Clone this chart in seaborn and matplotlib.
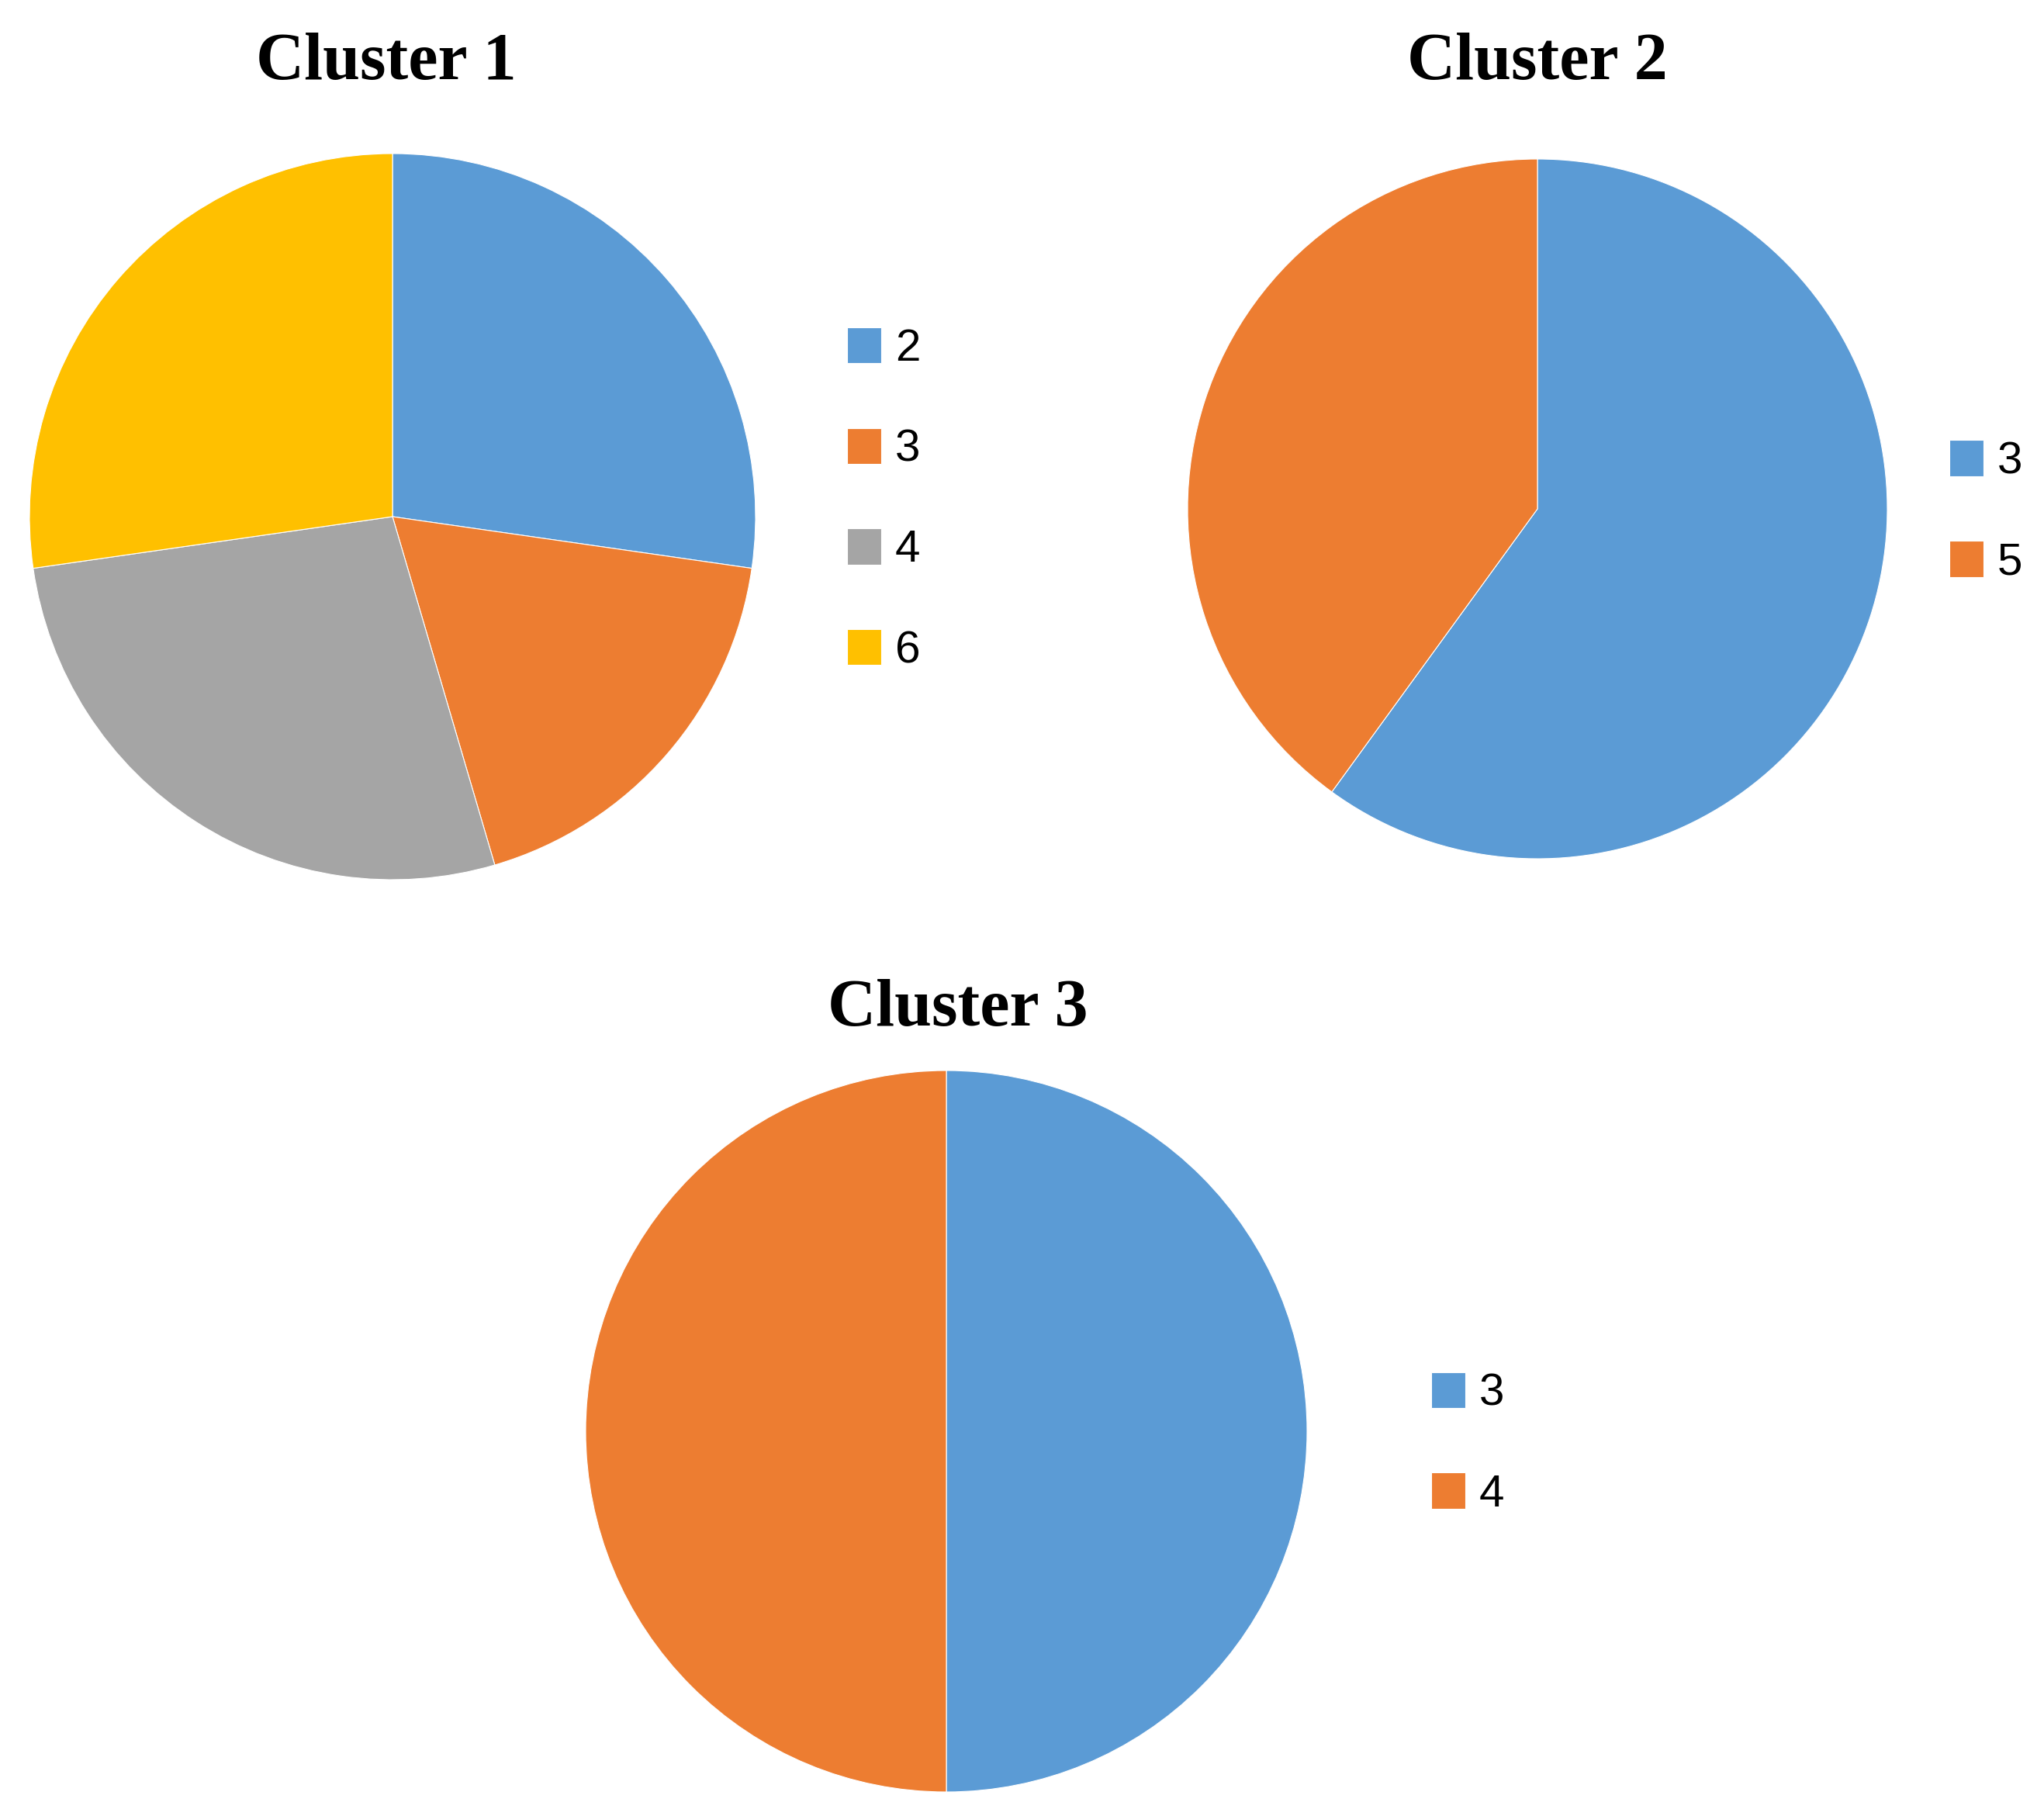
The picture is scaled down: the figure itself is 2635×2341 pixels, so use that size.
import matplotlib
matplotlib.use("Agg")
import matplotlib.pyplot as plt
import seaborn as sns

sns.set_style("white")
plt.rcParams["text.color"] = "black"

W, H = 2635, 2341

# cluster data: category labels and counts
c1_labels = ["2", "3", "4", "6"]
c1_values = [3, 2, 3, 3]
c2_labels = ["3", "5"]
c2_values = [3, 2]
c3_labels = ["3", "4"]
c3_values = [1, 1]

office = ["#5B9BD5", "#ED7D31", "#A5A5A5", "#FFC000"]
palette = sns.color_palette(office)

fig = plt.figure(figsize=(W / 100, H / 100), dpi=100)


def pie_panel(cx, cy, r, labels, values, title, title_x, title_y, leg_x, leg_y):
    ax = fig.add_axes([(cx - r) / W, 1 - (cy + r) / H, 2 * r / W, 2 * r / H])
    wedges, _ = ax.pie(values, colors=palette[:len(values)], startangle=90,
                       counterclock=False, radius=1,
                       wedgeprops=dict(edgecolor="white", linewidth=0.8))
    ax.set_xlim(-1, 1)
    ax.set_ylim(-1, 1)
    ax.set_aspect("equal")
    fig.text(title_x / W, 1 - title_y / H, title, ha="center", va="baseline",
             fontsize=62, fontweight="bold", family="Liberation Serif",
             color="black")
    leg = fig.legend(wedges, labels, loc="center left",
                     bbox_to_anchor=(leg_x / W, 1 - leg_y / H),
                     frameon=False, borderpad=0, borderaxespad=0,
                     handlelength=0.76, handleheight=0.85, handletextpad=0.3,
                     labelspacing=1.27,
                     prop={"family": "Liberation Sans", "size": 42})
    for t in leg.get_texts():
        t.set_color("black")


pie_panel(506, 666, 468, c1_labels, c1_values, "Cluster 1", 498, 102, 1092, 644)
pie_panel(1982, 656, 451, c2_labels, c2_values, "Cluster 2", 1982, 102, 2513, 660)
pie_panel(1220, 1845, 465, c3_labels, c3_values, "Cluster 3", 1235, 1322, 1845, 1861)

fig.savefig("out.png", dpi=100, facecolor="white")
